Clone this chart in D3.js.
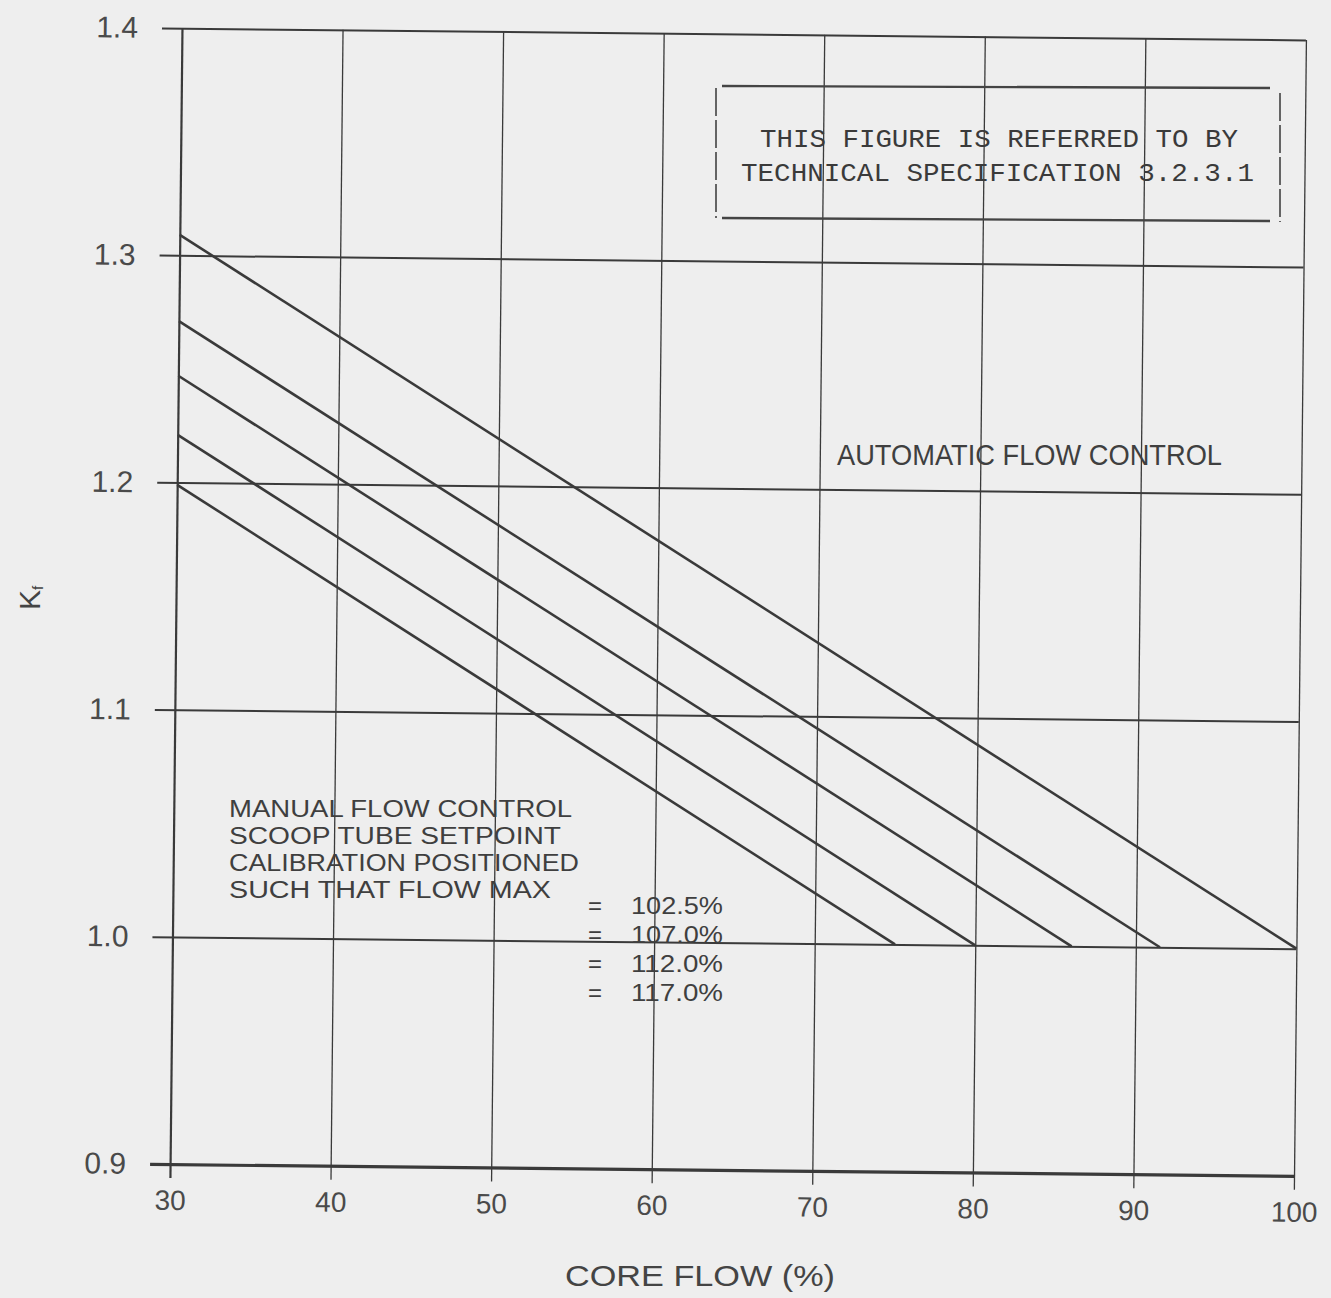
<!DOCTYPE html>
<html>
<head>
<meta charset="utf-8">
<script src="https://cdn.jsdelivr.net/npm/d3@7"></script>
<style>
  body { margin:0; background:#eeeeee; }
  svg { display:block; }
</style>
</head>
<body>
<div id="chart"></div>
<script>

// values
var flowTicks = [30, 40, 50, 60, 70, 80, 90, 100]
var kfTicks = [0.9, 1.0, 1.1, 1.2, 1.3, 1.4]
// automatic flow control line
var autoFlow = [30, 100]
var autoKf = [1.309, 1.0]
// manual flow control lines: Kf at 30% flow, flow where Kf reaches 1.0
var manualStartKf = [1.271, 1.247, 1.221, 1.199]
var manualEndFlow = [91.5, 86, 80, 75]
var flowMax = ["102.5%", "107.0%", "112.0%", "117.0%"]
var manualText = ["MANUAL FLOW CONTROL", "SCOOP TUBE SETPOINT", "CALIBRATION POSITIONED", "SUCH THAT FLOW MAX"]
var boxText = ["THIS FIGURE IS REFERRED TO BY", "TECHNICAL SPECIFICATION 3.2.3.1"]

var W = 1331, H = 1298
var ink = "#3a3a3a"
var sans = "'Liberation Sans', Arial, sans-serif"

var svg = d3.select("#chart").append("svg")
    .attr("width", W).attr("height", H)

svg.append("rect").attr("width", W).attr("height", H).attr("fill", "#eeeeee")

var x = d3.scaleLinear().domain([30, 100]).range([176, 1300])
var y = d3.scaleLinear().domain([0.9, 1.4]).range([1170, 34])
var pw = x(100) - x(30), ph = y(0.9) - y(1.4)

// the scanned sheet is turned a little
var plot = svg.append("g").attr("transform", "rotate(0.6, 738, 602)")

// horizontal grid + y labels
var yAx = plot.append("g")
    .attr("transform", "translate(" + x(30) + ",0)")
    .call(d3.axisLeft(y).tickValues(kfTicks).tickFormat(d3.format(".1f"))
          .tickSize(20).tickPadding(24))
yAx.select(".domain").remove()
yAx.attr("font-family", sans).attr("font-size", 30)
yAx.selectAll("text").attr("fill", "#4a4a4a")
yAx.selectAll("line")
    .attr("x1", pw)
    .attr("stroke", ink)
    .attr("stroke-width", function(d) { return d == 0.9 ? 3.2 : 2 })

// vertical grid + x labels
var xAx = plot.append("g")
    .attr("transform", "translate(0," + y(0.9) + ")")
    .call(d3.axisBottom(x).tickValues(flowTicks).tickSize(14).tickPadding(12))
xAx.select(".domain").remove()
xAx.attr("font-family", sans).attr("font-size", 28)
xAx.selectAll("text").attr("fill", "#4a4a4a")
xAx.selectAll("line")
    .attr("y1", -ph)
    .attr("stroke", ink)
    .attr("stroke-width", function(d) { return d == 30 ? 2.2 : 1.3 })

// curves
var line = d3.line().x(function(d) { return x(d[0]) }).y(function(d) { return y(d[1]) })

plot.append("path")
    .datum(autoFlow.map(function(f, i) { return [f, autoKf[i]] }))
    .attr("d", line)
    .attr("fill", "none").attr("stroke", ink).attr("stroke-width", 2.6)

plot.selectAll(".manual")
    .data(manualStartKf.map(function(k, i) { return [[30, k], [manualEndFlow[i], 1.0]] }))
  .enter().append("path")
    .attr("class", "manual")
    .attr("d", line)
    .attr("fill", "none").attr("stroke", ink).attr("stroke-width", 2.6)

// axis titles
svg.append("text")
    .attr("x", 700).attr("y", 1286)
    .attr("text-anchor", "middle")
    .attr("font-family", sans).attr("font-size", 30)
    .attr("fill", "#444")
    .attr("textLength", 270).attr("lengthAdjust", "spacingAndGlyphs")
    .text("CORE FLOW (%)")

var kf = svg.append("text")
    .attr("transform", "translate(40,598) rotate(-90)")
    .attr("text-anchor", "middle")
    .attr("font-family", sans).attr("font-size", 30)
    .attr("fill", "#444")
kf.append("tspan").text("K")
kf.append("tspan").attr("font-size", 15).attr("dy", 3).text("f")

// note box
var box = svg.append("g")
box.append("line").attr("x1", 722).attr("y1", 86).attr("x2", 1270).attr("y2", 88)
box.append("line").attr("x1", 722).attr("y1", 218).attr("x2", 1270).attr("y2", 221)
box.selectAll("line").attr("stroke", "#444").attr("stroke-width", 2.4)
box.append("line").attr("x1", 716).attr("y1", 88).attr("x2", 716).attr("y2", 218)
    .attr("stroke", "#555").attr("stroke-width", 1.8).attr("stroke-dasharray", "28,4")
box.append("line").attr("x1", 1280).attr("y1", 93).attr("x2", 1280).attr("y2", 222)
    .attr("stroke", "#555").attr("stroke-width", 1.8).attr("stroke-dasharray", "28,4")

box.selectAll(".note")
    .data(boxText)
  .enter().append("text")
    .attr("class", "note")
    .attr("x", function(d, i) { return i == 0 ? 760 : 741 })
    .attr("y", function(d, i) { return i == 0 ? 147 : 181 })
    .attr("textLength", function(d, i) { return i == 0 ? 478 : 513 })
    .attr("lengthAdjust", "spacingAndGlyphs")
    .attr("font-family", "'Liberation Mono', 'Courier New', monospace")
    .attr("font-size", 26)
    .attr("fill", "#3a3a3a")
    .text(function(d) { return d })

// curve labels
svg.append("text")
    .attr("x", 837).attr("y", 465)
    .attr("font-family", sans).attr("font-size", 30)
    .attr("fill", "#3f3f3f")
    .attr("textLength", 385).attr("lengthAdjust", "spacingAndGlyphs")
    .text("AUTOMATIC  FLOW  CONTROL")

var manWidths = [343, 332, 350, 322]
svg.selectAll(".man")
    .data(manualText)
  .enter().append("text")
    .attr("class", "man")
    .attr("x", 229)
    .attr("y", function(d, i) { return 817 + i * 27 })
    .attr("textLength", function(d, i) { return manWidths[i] })
    .attr("lengthAdjust", "spacingAndGlyphs")
    .attr("font-family", sans).attr("font-size", 23.5)
    .attr("fill", "#3f3f3f")
    .text(function(d) { return d })

var maxRows = svg.selectAll(".fmax")
    .data(flowMax)
  .enter().append("g")
    .attr("class", "fmax")
    .attr("font-family", sans).attr("font-size", 24)
    .attr("fill", "#3f3f3f")
maxRows.append("text")
    .attr("x", 588)
    .attr("y", function(d, i) { return 914 + i * 29 })
    .text("=")
maxRows.append("text")
    .attr("x", 631)
    .attr("y", function(d, i) { return 914 + i * 29 })
    .attr("textLength", 92).attr("lengthAdjust", "spacingAndGlyphs")
    .text(function(d) { return d })

</script>
</body>
</html>
